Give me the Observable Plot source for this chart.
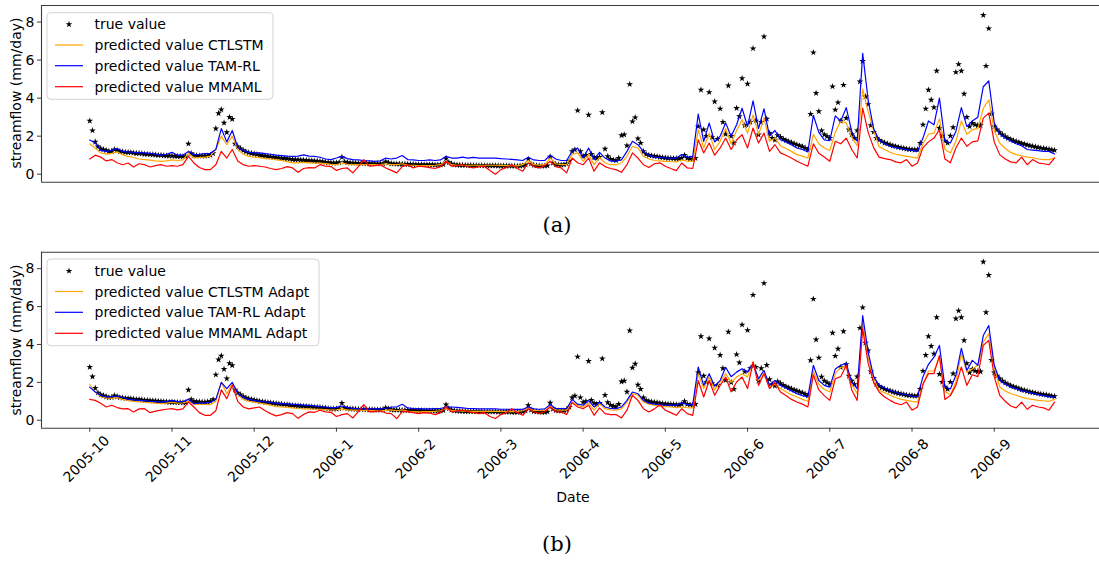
<!DOCTYPE html>
<html><head><meta charset="utf-8">
<script src="https://cdn.jsdelivr.net/npm/d3@7"></script>
<script src="https://cdn.jsdelivr.net/npm/@observablehq/plot@0.6"></script>
<style>
body{margin:0;background:#fff;}
#wrap{position:relative;width:1099px;height:562px;overflow:hidden;font-family:"DejaVu Sans",sans-serif;background:#fff;}
.lab{position:absolute;font-family:"DejaVu Sans",sans-serif;font-size:14px;white-space:nowrap;color:#000;}
.cap{position:absolute;font-family:"DejaVu Serif",serif;font-size:21px;white-space:nowrap;color:#000;transform:translate(-50%,-50%);}
</style></head><body><div id="wrap"></div>
<script>
// ---------------- data ----------------
const tickLabels = ["2005-10","2005-11","2005-12","2006-1","2006-2","2006-3","2006-4","2006-5","2006-6","2006-7","2006-8","2006-9"];
const tickDays = tickLabels.map((_, i) => i * 30);
const yTicks = [0, 2, 4, 6, 8];

// observed streamflow, one value per day (day 0 = 2005-10-01)
const trueValue = [
2.8,2.3,1.7,1.45,1.35,1.3,1.25,1.2,1.2,1.3,
1.25,1.2,1.18,1.16,1.15,1.14,1.12,1.1,1.1,1.08,
1.06,1.05,1.04,1.03,1.02,1.0,1.0,0.98,0.97,0.96,
0.96,0.95,0.94,0.94,0.93,0.93,1.6,1.1,1.0,0.98,
0.97,0.96,0.96,0.97,1.0,1.1,2.4,3.2,3.4,2.7,
2.2,3.0,2.9,1.6,1.45,1.35,1.25,1.18,1.13,1.1,
1.07,1.04,1.0,0.98,0.96,0.94,0.92,0.9,0.88,0.86,
0.85,0.83,0.82,0.8,0.78,0.77,0.76,0.75,0.74,0.73,
0.72,0.71,0.7,0.69,0.68,0.66,0.64,0.62,0.6,0.6,
0.6,0.62,0.9,0.65,0.62,0.6,0.6,0.59,0.58,0.58,
0.57,0.57,0.56,0.56,0.55,0.55,0.55,0.56,0.66,0.6,
0.56,0.55,0.54,0.54,0.53,0.53,0.52,0.52,0.52,0.51,
0.51,0.51,0.5,0.5,0.5,0.5,0.49,0.49,0.5,0.52,
0.82,0.62,0.55,0.5,0.49,0.48,0.48,0.47,0.47,0.47,
0.46,0.46,0.46,0.46,0.45,0.45,0.45,0.45,0.45,0.44,
0.44,0.44,0.44,0.44,0.43,0.43,0.43,0.44,0.45,0.5,
0.79,0.55,0.47,0.45,0.44,0.43,0.43,0.45,0.92,0.6,
0.52,0.5,0.49,0.5,0.55,0.7,1.2,1.29,3.35,1.2,
0.95,1.0,3.12,1.06,0.9,0.85,0.9,3.25,1.33,0.94,
0.8,0.75,0.72,0.85,2.04,2.08,1.5,4.73,2.77,2.98,
1.87,1.64,1.2,1.05,1.0,0.97,0.95,0.93,0.9,0.88,
0.86,0.85,0.84,0.83,0.82,0.81,0.85,1.0,0.85,0.82,
0.8,0.85,2.51,4.43,2.34,2.0,4.31,1.94,3.82,1.85,
3.44,2.74,2.11,4.66,2.0,1.64,3.47,3.04,5.04,2.57,
4.75,2.74,6.61,2.81,2.08,2.74,7.23,2.91,2.16,1.9,
1.81,2.04,1.95,1.85,1.78,1.72,1.66,1.6,1.55,1.5,
1.45,1.38,1.3,3.16,6.4,4.26,3.3,2.29,2.08,1.99,
1.9,4.61,3.39,3.77,2.8,4.69,2.95,2.34,2.08,1.9,
2.3,4.87,5.95,4.08,3.68,2.57,2.22,1.9,1.8,1.72,
1.65,1.6,1.55,1.5,1.46,1.42,1.39,1.36,1.33,1.31,
1.3,1.28,1.3,1.64,2.6,3.44,4.43,3.91,3.51,5.43,
2.43,2.02,1.76,1.64,2.02,2.46,5.36,5.78,5.43,4.22,
3.0,2.51,2.69,2.6,2.57,2.57,8.36,5.69,7.66,3.18,
2.51,2.34,2.2,2.08,1.98,1.9,1.83,1.77,1.72,1.67,
1.62,1.58,1.54,1.5,1.47,1.44,1.41,1.38,1.36,1.34,
1.31,1.28,1.26];

// predictions, one value every 2 days
const predStep = 2;
const ctlstmA = [
1.6,1.38,1.12,1.06,1.1,1.18,1.02,0.94,0.88,0.8,
0.77,0.74,0.7,0.68,0.7,0.75,0.72,0.75,1.1,0.85,
0.88,0.9,0.95,1.3,2.0,1.55,2.0,1.3,1.05,0.94,
0.9,0.87,0.82,0.8,0.77,0.72,0.66,0.6,0.6,0.62,
0.6,0.58,0.59,0.56,0.52,0.5,0.6,0.52,0.5,0.5,
0.5,0.5,0.5,0.5,0.55,0.5,0.5,0.55,0.48,0.47,
0.45,0.45,0.45,0.47,0.5,0.68,0.5,0.47,0.47,0.47,
0.47,0.47,0.47,0.47,0.47,0.46,0.45,0.45,0.44,0.5,
0.72,0.5,0.48,0.5,0.85,0.55,0.5,0.5,1.05,1.12,
0.68,1.03,0.5,0.89,0.59,0.5,0.5,0.6,0.94,1.47,
1.38,0.94,0.8,0.72,0.7,0.68,0.66,0.65,0.75,0.68,
0.68,2.34,1.38,2.16,1.3,1.73,2.4,1.6,2.3,2.86,
2.16,3.12,2.08,2.95,1.73,1.9,1.5,1.35,1.2,1.03,
0.95,0.85,2.1,1.6,1.38,1.25,2.2,2.8,2.7,1.95,
1.5,4.47,3.3,2.3,1.45,1.3,1.15,1.05,1.0,0.94,
0.9,0.85,1.6,2.1,2.16,2.91,1.3,1.12,1.73,2.8,
2.1,2.34,2.4,3.47,3.91,2.3,1.64,1.35,1.15,1.03,
0.97,0.9,0.87,0.8,0.77,0.77,0.85];
const tamrlA = [
1.8,1.64,1.25,1.2,1.25,1.35,1.2,1.17,1.15,1.14,
1.12,1.1,1.05,1.0,1.05,1.15,1.0,1.0,1.2,1.03,
1.05,1.08,1.1,1.3,2.4,1.7,2.3,1.4,1.25,1.15,
1.12,1.12,1.08,1.05,1.0,0.98,0.95,0.94,0.95,1.02,
0.95,0.94,0.89,0.8,0.77,0.85,0.94,0.82,0.77,0.75,
0.72,0.7,0.68,0.7,0.85,0.8,0.85,0.98,0.77,0.75,
0.72,0.72,0.75,0.72,0.75,0.94,0.85,0.85,0.9,0.85,
0.89,0.85,0.85,0.85,0.85,0.82,0.8,0.78,0.75,0.72,
0.89,0.75,0.72,0.72,1.0,0.8,0.72,0.72,1.2,1.38,
0.85,1.38,0.77,1.15,0.85,0.7,0.68,0.75,1.2,1.73,
1.55,1.2,1.0,0.9,0.88,0.86,0.85,0.85,1.03,0.9,
0.94,3.16,1.73,2.69,1.7,2.0,2.7,2.0,2.6,3.47,
2.51,3.86,2.4,3.44,2.0,2.3,1.81,1.7,1.55,1.38,
1.3,1.17,3.1,2.2,1.81,1.76,3.07,2.8,3.5,2.25,
1.73,6.35,3.9,2.4,1.8,1.6,1.47,1.4,1.35,1.29,
1.25,1.2,1.9,2.8,2.6,4.0,1.75,1.64,2.25,3.5,
2.5,2.8,3.0,4.6,4.9,2.7,2.1,1.9,1.75,1.6,
1.5,1.3,1.27,1.24,1.2,1.2,1.06];
const mmamlA = [
0.8,1.0,0.9,0.7,0.77,0.6,0.5,0.59,0.38,0.55,
0.5,0.38,0.45,0.5,0.42,0.45,0.42,0.5,0.94,0.59,
0.35,0.24,0.24,0.5,1.2,0.85,1.3,0.7,0.5,0.42,
0.45,0.42,0.38,0.3,0.24,0.3,0.4,0.33,0.1,0.3,
0.35,0.33,0.5,0.42,0.4,0.2,0.3,0.33,0.07,0.4,
0.77,0.42,0.45,0.5,0.33,0.2,0.07,0.4,0.5,0.33,
0.42,0.4,0.35,0.3,0.4,0.68,0.42,0.45,0.5,0.38,
0.33,0.4,0.42,0.2,0.0,0.24,0.35,0.5,0.3,0.16,
0.59,0.4,0.33,0.45,0.68,0.4,0.33,0.07,0.85,0.6,
0.5,0.85,0.16,0.6,0.4,0.3,0.24,0.1,0.5,1.12,
0.85,0.5,0.35,0.55,0.6,0.42,0.3,0.19,0.59,0.33,
0.3,1.81,1.12,1.64,1.0,1.38,1.9,1.3,1.8,2.08,
1.38,2.43,1.64,2.16,1.2,1.55,1.12,1.0,0.85,0.68,
0.55,0.42,1.6,1.1,0.9,0.68,1.73,1.6,1.9,1.3,
0.85,3.47,2.2,1.4,0.9,0.82,0.77,0.65,0.6,0.77,
0.42,0.59,1.4,1.7,1.9,2.34,0.8,0.6,1.38,1.9,
1.47,1.7,1.75,2.95,3.21,1.7,1.03,0.8,0.65,0.6,
0.9,0.5,0.77,0.6,0.55,0.5,0.85];
const ctlstmB = [
1.9,1.49,1.25,1.18,1.15,1.2,1.1,1.05,1.0,0.97,
0.95,0.93,0.9,0.88,0.9,0.95,0.9,0.92,1.0,0.85,
0.84,0.83,0.82,1.0,2.0,1.4,1.93,1.35,1.1,1.0,
0.95,0.9,0.85,0.8,0.72,0.7,0.68,0.65,0.62,0.6,
0.6,0.58,0.58,0.56,0.54,0.55,0.6,0.55,0.53,0.53,
0.52,0.52,0.5,0.5,0.52,0.55,0.5,0.55,0.48,0.46,
0.44,0.45,0.46,0.47,0.5,0.61,0.52,0.5,0.48,0.48,
0.47,0.47,0.47,0.47,0.47,0.47,0.46,0.46,0.46,0.5,
0.65,0.52,0.5,0.52,0.74,0.55,0.53,0.53,0.96,0.8,
0.7,0.9,0.53,0.88,0.61,0.55,0.53,0.6,0.96,1.4,
1.32,0.96,0.85,0.8,0.75,0.72,0.7,0.67,0.7,0.66,
0.65,2.46,1.67,2.28,1.6,2.02,2.46,2.0,2.28,2.46,
2.28,3.1,2.1,2.46,1.75,1.9,1.67,1.5,1.35,1.23,
1.1,1.0,2.6,1.9,1.62,1.49,2.46,2.8,2.8,1.9,
1.4,5.18,3.3,2.2,1.58,1.45,1.32,1.2,1.1,1.05,
1.0,0.96,1.9,2.6,2.6,3.3,1.5,1.35,2.02,3.5,
2.54,2.7,2.9,4.12,4.56,2.8,1.75,1.55,1.4,1.32,
1.22,1.14,1.1,1.05,1.03,1.0,1.1];
const tamrlB = [
1.75,1.49,1.3,1.23,1.25,1.28,1.2,1.1,1.07,1.05,
1.03,1.0,0.98,0.96,1.0,1.05,0.98,0.98,1.1,0.88,
0.9,0.92,0.95,1.1,2.0,1.67,2.0,1.4,1.2,1.1,
1.05,1.0,0.97,0.94,0.9,0.88,0.86,0.84,0.82,0.8,
0.78,0.76,0.72,0.7,0.65,0.68,0.75,0.68,0.62,0.61,
0.6,0.6,0.6,0.6,0.62,0.7,0.7,0.84,0.65,0.62,
0.61,0.6,0.6,0.62,0.62,0.7,0.7,0.68,0.65,0.62,
0.61,0.6,0.6,0.6,0.6,0.58,0.58,0.57,0.57,0.58,
0.7,0.6,0.58,0.6,0.82,0.62,0.61,0.62,1.1,0.85,
0.79,1.05,0.7,0.96,0.7,0.62,0.61,0.7,1.05,1.49,
1.4,1.05,0.9,0.85,0.82,0.8,0.8,0.79,0.93,0.82,
0.82,2.81,1.84,2.46,1.8,2.1,2.8,2.3,2.54,2.72,
2.54,2.98,2.19,2.63,1.84,2.1,1.84,1.7,1.55,1.4,
1.3,1.23,2.9,2.1,1.84,1.75,2.7,2.9,3.0,2.0,
1.67,5.53,3.6,2.3,1.84,1.7,1.58,1.48,1.4,1.35,
1.28,1.23,2.3,2.95,3.33,3.95,1.75,1.65,2.37,3.8,
2.63,3.16,2.9,4.47,5.0,2.9,2.1,1.9,1.75,1.67,
1.55,1.49,1.42,1.35,1.3,1.23,1.23];
const mmamlB = [
1.1,1.05,0.9,0.7,0.79,0.67,0.6,0.61,0.44,0.6,
0.61,0.4,0.48,0.53,0.58,0.61,0.55,0.6,0.96,0.7,
0.4,0.26,0.26,0.5,1.6,1.14,1.84,1.0,0.7,0.6,
0.65,0.7,0.5,0.35,0.23,0.3,0.4,0.35,0.1,0.3,
0.44,0.42,0.53,0.44,0.42,0.2,0.3,0.35,0.12,0.45,
0.82,0.44,0.45,0.5,0.38,0.35,0.09,0.45,0.47,0.4,
0.35,0.4,0.38,0.3,0.4,0.7,0.44,0.5,0.53,0.45,
0.4,0.35,0.4,0.2,0.09,0.3,0.4,0.61,0.4,0.26,
0.61,0.45,0.35,0.45,0.7,0.45,0.44,0.3,0.93,0.7,
0.61,0.79,0.26,0.65,0.35,0.3,0.3,0.12,0.53,1.32,
1.05,0.61,0.44,0.6,0.82,0.53,0.4,0.26,0.61,0.35,
0.26,2.1,1.23,2.1,1.32,1.84,2.28,1.5,2.02,2.28,
1.67,3.07,1.84,2.46,1.67,2.0,1.49,1.3,1.1,0.96,
0.85,0.7,2.4,1.6,1.3,1.05,2.19,2.3,2.9,1.6,
1.05,4.82,3.0,2.0,1.49,1.23,1.05,0.9,0.82,0.96,
0.53,0.7,1.9,2.46,2.46,3.42,1.1,1.3,1.84,2.81,
1.84,2.4,2.3,3.95,4.21,2.3,1.32,1.0,0.75,0.65,
0.96,0.58,0.79,0.7,0.65,0.53,0.96];

const labelsA = ["true value","predicted value CTLSTM","predicted value TAM-RL","predicted value MMAML"];
const labelsB = ["true value","predicted value CTLSTM Adapt","predicted value TAM-RL Adapt","predicted value MMAML Adapt"];
const colors = ["#ffa500", "#0000ff", "#ff0000"];

// ---------------- drawing ----------------
const xDomain = [-17.6, 368.4];
const yDomain = [-0.42, 8.87];
const spine = "#3a3a3a";
const W = 1099;
const toRows = (arr, step) => arr.map((v, i) => ({day: i * step, value: v}));
const trueRows = toRows(trueValue, 1);
const starR = 2.1;

function panel(series, o) {
  const marks = [
    Plot.ruleY([yDomain[1]], {stroke: spine, strokeWidth: 1.1}),
    Plot.ruleY([yDomain[0]], {stroke: spine, strokeWidth: 1.1}),
    Plot.ruleX([xDomain[0]], {stroke: spine, strokeWidth: 1.1}),
    Plot.axisY({ticks: yTicks, tickSize: 4, tickPadding: 3, label: null, tickFormat: d => String(d), stroke: spine}),
    Plot.dot(trueRows, {x: "day", y: "value", symbol: "star", r: starR, fill: "black", stroke: "none"}),
    ...series.map((s, k) => Plot.line(toRows(s, predStep), {x: "day", y: "value", stroke: colors[k], strokeWidth: 1.2}))
  ];
  if (o.showX) {
    marks.push(
      Plot.axisX({ticks: tickDays, tickSize: 4, tickFormat: () => "", label: null, stroke: spine}),
      Plot.text(tickDays, {x: d => d, frameAnchor: "bottom", dy: 34, rotate: -45, textAnchor: "middle",
        text: (d, i) => tickLabels[i], fontSize: 14, fill: "black"})
    );
  }
  return Plot.plot({
    width: W, height: o.height,
    marginLeft: 41, marginRight: 0, marginTop: o.mt, marginBottom: o.mb,
    x: {domain: xDomain, axis: null},
    y: {domain: yDomain, axis: null},
    style: {fontFamily: "DejaVu Sans, sans-serif", fontSize: "14px", color: "black", background: "transparent", overflow: "visible"},
    marks
  });
}

const wrap = document.getElementById("wrap");
function put(el, top) { el.style.position = "absolute"; el.style.left = "0px"; el.style.top = top + "px"; wrap.appendChild(el); }

put(panel([ctlstmA, tamrlA, mmamlA], {height: 190, mt: 5, mb: 8.3, showX: false}), 0);
put(panel([ctlstmB, tamrlB, mmamlB], {height: 317, mt: 6.7, mb: 134.3, showX: true}), 245);

// legends
const ov = d3.create("svg").attr("width", W).attr("height", 562)
  .style("position", "absolute").style("left", "0px").style("top", "0px").style("pointer-events", "none");
function legend(labels, box, rows) {
  ov.append("rect").attr("x", box[0]).attr("y", box[1]).attr("width", box[2] - box[0]).attr("height", box[3] - box[1])
    .attr("rx", 4).attr("fill", "white").attr("fill-opacity", 0.8).attr("stroke", "#d3d3d3").attr("stroke-width", 1);
  labels.forEach((lab, i) => {
    const y = rows[i];
    if (i === 0) {
      ov.append("path").attr("d", d3.symbol(d3.symbolStar, Math.PI * starR * starR)()).attr("transform", `translate(69,${y})`).attr("fill", "black");
    } else {
      ov.append("line").attr("x1", 55).attr("x2", 83).attr("y1", y).attr("y2", y).attr("stroke", colors[i - 1]).attr("stroke-width", 1.2);
    }
    ov.append("text").attr("x", 94.5).attr("y", y).attr("dominant-baseline", "central")
      .attr("font-family", "DejaVu Sans, sans-serif").attr("font-size", 14).attr("fill", "black").text(lab);
  });
}
legend(labelsA, [47, 12.7, 273, 99.3], [24.3, 45, 65.7, 86.7]);
legend(labelsB, [47, 259, 319, 345.7], [271, 291.5, 312.3, 333.3]);
wrap.appendChild(ov.node());

// axis titles and captions
function lab(text, x, y, rot, cls) {
  const d = document.createElement("div");
  d.className = cls; d.textContent = text;
  d.style.left = x + "px"; d.style.top = y + "px";
  d.style.transform = "translate(-50%,-50%)" + (rot ? " rotate(-90deg)" : "");
  wrap.appendChild(d);
}
lab("streamflow (mm/day)", 15.5, 93.4, true, "lab");
lab("streamflow (mm/day)", 15.5, 339.7, true, "lab");
lab("Date", 573, 497, false, "lab");
lab("(a)", 557, 225, false, "cap");
lab("(b)", 557, 544, false, "cap");
</script></body></html>
